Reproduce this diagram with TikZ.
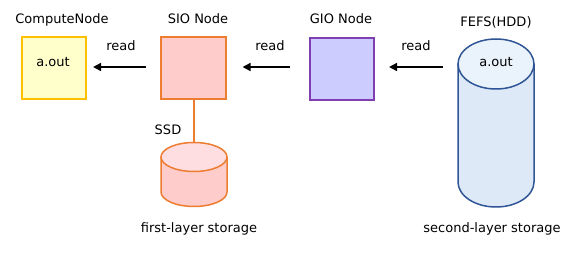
\documentclass[tikz,border=0pt]{standalone}
\usepackage{fontspec}
\setmainfont{DejaVu Sans}
\usetikzlibrary{arrows.meta}
\definecolor{cfill}{HTML}{FFFFCC}
\definecolor{cdraw}{HTML}{FFC000}
\definecolor{sfill}{HTML}{FFCCCC}
\definecolor{sdraw}{HTML}{ED7D31}
\definecolor{stop}{HTML}{FFDEE2}
\definecolor{gfill}{HTML}{CCCCFF}
\definecolor{gdraw}{HTML}{7F3FB0}
\definecolor{ffill}{HTML}{DDE9F6}
\definecolor{ftop}{HTML}{EAF2FB}
\definecolor{fdraw}{HTML}{2F5597}
\begin{document}
\begin{tikzpicture}[x=1pt,y=1pt,
  lbl/.style={inner sep=0pt, font=\fontsize{13}{15}\selectfont, text height=9.4pt, text depth=0pt},
  box/.style={line width=1.6pt, minimum width=64.5pt, minimum height=62.5pt, inner sep=0pt},
  arr/.style={line width=1.5pt, -{Triangle[length=8pt,width=8pt]}},
  ghost/.style={inner sep=0pt}]
\useasboundingbox (0,0) rectangle (576,254);
% boxes
\node[box, draw=cdraw, fill=cfill] (compute) at (54,186) {};
\node[box, draw=sdraw, fill=sfill] (sio) at (193.5,186) {};
\node[box, draw=gdraw, fill=gfill] (gio) at (342,185) {};
% FEFS cylinder
\fill[ffill] (458,190) -- (458,72) arc[start angle=180, end angle=360, x radius=38, y radius=25] -- (534,190) -- cycle;
\filldraw[fill=ftop, draw=fdraw, line width=1.5pt] (496,190) ellipse[x radius=38, y radius=25];
\draw[fdraw, line width=1.5pt] (458,190) -- (458,72) arc[start angle=180, end angle=360, x radius=38, y radius=25] -- (534,190);
\node[ghost, minimum width=76pt, minimum height=193pt] (fefs) at (496,143.5) {};
% SSD cylinder
\fill[sfill] (161,97) -- (161,62) arc[start angle=180, end angle=360, x radius=33, y radius=14.5] -- (227,97) -- cycle;
\filldraw[fill=stop, draw=sdraw, line width=1.5pt] (194,97) ellipse[x radius=33, y radius=14.5];
\draw[sdraw, line width=1.5pt] (161,97) -- (161,62) arc[start angle=180, end angle=360, x radius=33, y radius=14.5] -- (227,97);
\node[ghost, minimum width=66pt, minimum height=64pt] (ssd) at (194,79.5) {};
% connector
\draw[sdraw, line width=1.5pt] (sio.south -| ssd.north) -- (ssd.north);
% arrows
\draw[arr, shorten <=14pt, shorten >=6pt] (sio.west |- 0,187) -- (compute.east |- 0,187);
\draw[arr, shorten <=19pt, shorten >=16pt] (gio.west |- 0,187) -- (sio.east |- 0,187);
\draw[arr, shorten <=15pt, shorten >=14pt] (fefs.west |- 0,187) -- (gio.east |- 0,187);
% labels
\node[lbl] (l1) at (62,235) {ComputeNode};
\node[lbl] (l2) at (198,235) {SIO Node};
\node[lbl] (l3) at (341,235) {GIO Node};
\node[lbl] (l4) at (496,232) {FEFS(HDD)};
\node[lbl] (r1) at (121,208) {read};
\node[lbl] (r2) at (270,208) {read};
\node[lbl] (r3) at (416,208) {read};
\node[lbl] (a1) at (53,192) {a.out};
\node[lbl] (a2) at (496,192) {a.out};
\node[lbl] (ssdl) at (168,124) {SSD};
\node[lbl] (fl) at (199,26) {first-layer storage};
\node[lbl] (sl) at (492,26) {second-layer storage};
\end{tikzpicture}
\end{document}
